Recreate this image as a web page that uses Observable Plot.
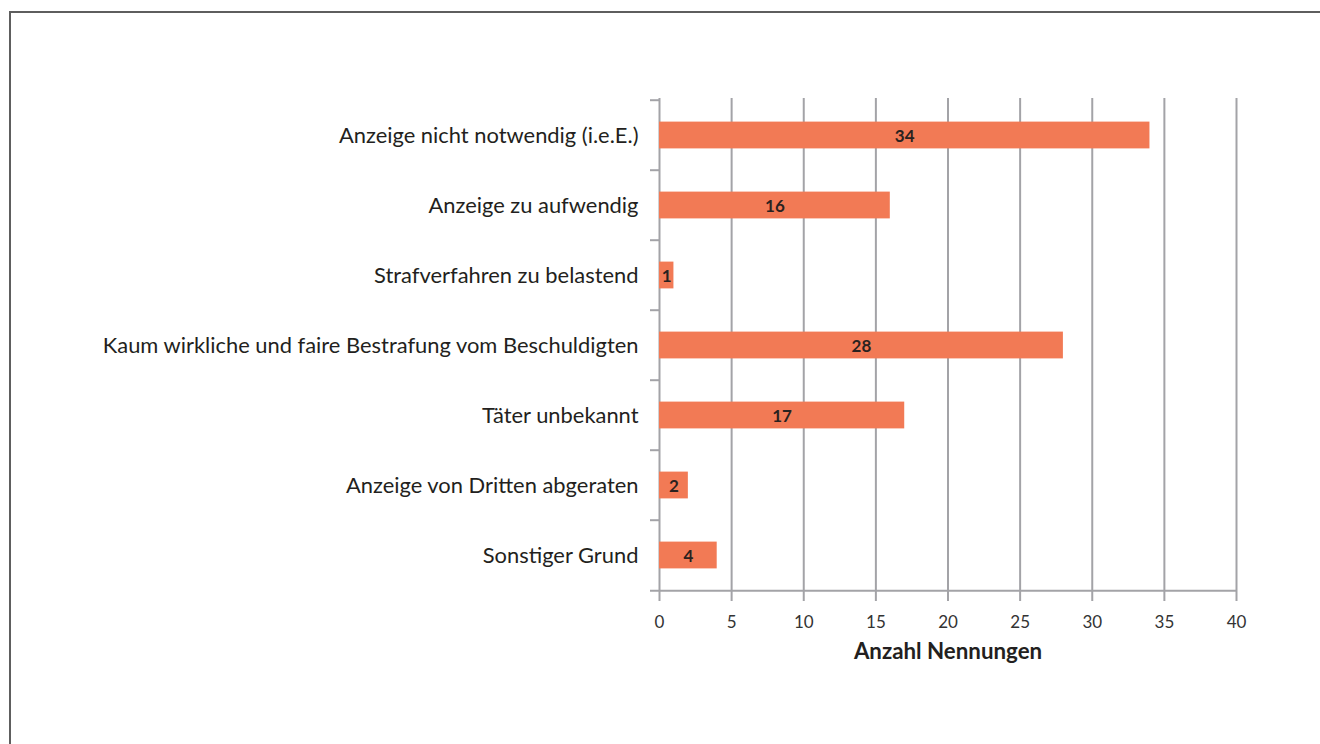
<!DOCTYPE html>
<html><head><meta charset="utf-8">
<script src="https://cdn.jsdelivr.net/npm/d3@7"></script>
<script src="https://cdn.jsdelivr.net/npm/@observablehq/plot@0.6"></script>
<style>
body{margin:0;background:#fff;}
#wrap{position:relative;width:1320px;height:744px;overflow:hidden;background:#fff;}
#frame{position:absolute;left:9px;top:11px;width:1400px;height:800px;border-left:2px solid #5e5e5e;border-top:2px solid #5e5e5e;}
#chart{position:absolute;left:0;top:0;}
</style></head><body>
<div id="wrap"><div id="frame"></div><div id="chart"></div></div>
<script>
const categories = [
  "Anzeige nicht notwendig (i.e.E.)",
  "Anzeige zu aufwendig",
  "Strafverfahren zu belastend",
  "Kaum wirkliche und faire Bestrafung vom Beschuldigten",
  "Täter unbekannt",
  "Anzeige von Dritten abgeraten",
  "Sonstiger Grund"
];
const values = [34, 16, 1, 28, 17, 2, 4];
const xTicks = [0, 5, 10, 15, 20, 25, 30, 35, 40];
const xLabel = "Anzahl Nennungen";

const data = categories.map((c, i) => ({category: c, value: values[i]}));

const W = 1320, H = 744, mT = 98, mB = 152, mL = 659, mR = 84;
const band = (H - mT - mB) / categories.length;
const grid = "#a3a3a7";

const chart = Plot.plot({
  width: W, height: H,
  marginTop: mT, marginBottom: mB, marginLeft: mL, marginRight: mR,
  style: {fontFamily: "Lato, sans-serif", background: "transparent", overflow: "visible"},
  x: {domain: [0, 40]},
  y: {domain: categories, padding: 0},
  marks: [
    Plot.ruleX(xTicks, {stroke: grid, strokeWidth: 2, insetBottom: -9}),
    Plot.ruleY(categories, {y: d => d, dy: -band / 2, x1: 0, x2: 0, insetLeft: -9, stroke: grid, strokeWidth: 2}),
    Plot.ruleY([categories[categories.length - 1]], {y: d => d, dy: band / 2, insetLeft: -9, stroke: grid, strokeWidth: 2}),
    Plot.barX(data, {x: "value", y: "category", fill: "#f27a55", insetTop: 21.6, insetBottom: 21.6}),
    Plot.text(data, {x: d => d.value / 2, y: "category", dy: 1, text: d => String(d.value), fontWeight: "bold", fontSize: 17, fill: "#2a2220"}),
    Plot.axisX({ticks: xTicks, tickSize: 0, tickPadding: 23, fontSize: 17, fill: "#333", label: null}),
    Plot.axisY({tickSize: 0, tickPadding: 21, fontSize: 21.9, fill: "#231f20", label: null}),
    Plot.text([xLabel], {frameAnchor: "bottom", dy: 66, text: d => d, fontSize: 22.3, fontWeight: "bold", fill: "#231f20"})
  ]
});
document.getElementById("chart").appendChild(chart);
</script>
</body></html>
